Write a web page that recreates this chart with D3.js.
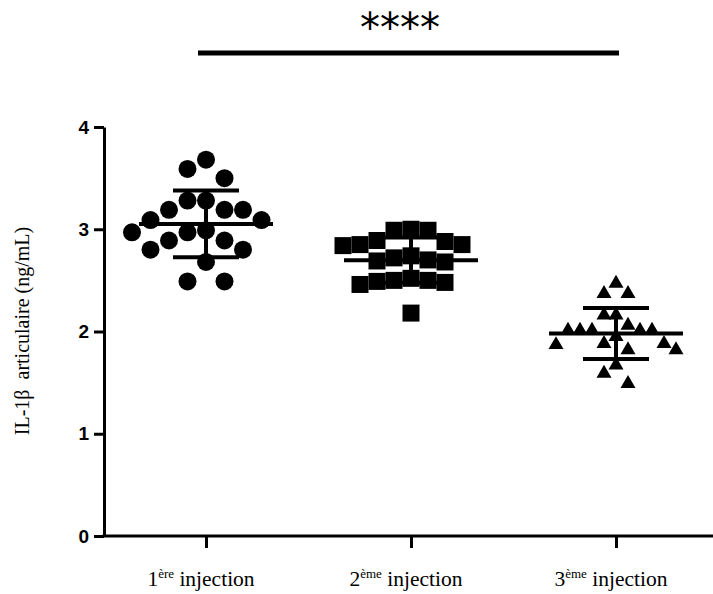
<!DOCTYPE html>
<html>
<head>
<meta charset="utf-8">
<script src="https://cdn.jsdelivr.net/npm/d3@7"></script>
<style>
  html, body { margin: 0; padding: 0; background: #fff; }
  svg { display: block; }
</style>
</head>
<body>
<div id="graph"></div>
<script>
'use strict';

// groups on the x axis (number + superscript suffix)
const groupNums = ['1', '2', '3'];
const groupSups = ['ère', 'ème', 'ème'];
const groupWord = ' injection';

// IL-1β values (ng/mL), one array per injection
const inj1 = [3.68, 3.59, 3.50, 3.28, 3.28, 3.19, 3.19, 3.19, 3.09, 3.09,
              2.97, 2.99, 2.97, 2.89, 2.89, 2.80, 2.80, 2.68, 2.49, 2.49];
const inj2 = [3.00, 2.99, 2.99, 2.89, 2.88, 2.85, 2.85, 2.84, 2.74, 2.72,
              2.70, 2.69, 2.68, 2.52, 2.50, 2.50, 2.49, 2.48, 2.46, 2.18];
const inj3 = [2.47, 2.37, 2.37, 2.16, 2.16, 2.06, 2.01, 2.01, 2.01, 2.01,
              2.01, 1.95, 1.88, 1.88, 1.87, 1.82, 1.82, 1.67, 1.59, 1.49];

const yTicks = [0, 1, 2, 3, 4];
const yTitle = 'IL-1β  articulaire (ng/mL)';
const sigLabel = '****';

const W = 713, H = 594;
const svg = d3.select('#graph').append('svg')
    .attr('width', W)
    .attr('height', H);

const series = [inj1, inj2, inj3];
const shapes = [d3.symbolCircle, d3.symbolSquare, d3.symbolTriangle];
const symArea = [Math.PI * 81, 17 * 17, Math.sqrt(3) / 4 * 15 * 15];
const laneStep = [18.5, 17, 12];   // sideways distance between columns
const laneGap = [24, 19, 21];      // min vertical distance inside a column

const y = d3.scaleLinear().domain([0, 4]).range([536, 127]);
const x = d3.scalePoint().domain(groupNums).range([206, 616]);

// axes
const yAxis = d3.axisLeft(y).tickValues(yTicks).tickSize(10).tickSizeOuter(0)
    .tickPadding(5).tickFormat(d3.format('d'));
const gy = svg.append('g').attr('transform', 'translate(104,0)').call(yAxis);
gy.selectAll('path, line').attr('stroke', '#000').attr('stroke-width', 3);
gy.selectAll('text')
    .attr('font-family', 'Liberation Sans, Arial, sans-serif')
    .attr('font-size', 19)
    .attr('font-weight', 'bold')
    .attr('fill', '#000');

const xAxis = d3.axisBottom(x).tickSize(12).tickSizeOuter(0).tickFormat('');
const gx = svg.append('g').attr('transform', 'translate(0,536)').call(xAxis);
gx.select('.domain').attr('d', `M${104 - 1.5},0H${W}`);
gx.selectAll('path, line').attr('stroke', '#000').attr('stroke-width', 3);

const xl = svg.append('g').selectAll('text')
    .data(groupNums)
    .enter()
    .append('text')
    .attr('x', d => x(d) - 5)
    .attr('y', 586)
    .attr('text-anchor', 'middle')
    .attr('font-family', 'Liberation Serif, Times New Roman, serif')
    .attr('font-size', 21.5)
    .attr('fill', '#000');
xl.append('tspan').text(d => d);
xl.append('tspan').attr('dy', -8).attr('font-size', 13).text((d, i) => groupSups[i]);
xl.append('tspan').attr('dy', 8).text(groupWord);

svg.append('text')
    .attr('transform', 'translate(29,331)rotate(-90)')
    .attr('text-anchor', 'middle')
    .attr('font-family', 'Liberation Serif, Times New Roman, serif')
    .attr('font-size', 20)
    .attr('fill', '#000')
    .attr('xml:space', 'preserve')
    .text(yTitle);

// column layout so close values spread sideways, like a scatter dot plot
function swarm(values, step, gap) {
  const order = values.map(v => v).sort((a, b) => b - a);
  const placed = [];
  order.forEach(v => {
    const py = y(v);
    for (let k = 0; k < 30; k++) {
      const lane = k === 0 ? 0 : (k % 2 ? -Math.ceil(k / 2) : Math.ceil(k / 2));
      const free = placed.every(q => q.lane !== lane || Math.abs(q.y - py) >= gap);
      if (free) {
        placed.push({ v: v, y: py, lane: lane, dx: lane * step });
        break;
      }
    }
  });
  return placed;
}

series.forEach((vals, gi) => {
  const cx = x(groupNums[gi]);
  const pts = swarm(vals, laneStep[gi], laneGap[gi]);
  svg.append('g').selectAll('path')
      .data(pts)
      .enter()
      .append('path')
      .attr('d', d3.symbol().type(shapes[gi]).size(symArea[gi]))
      .attr('transform', d => `translate(${cx + d.dx},${d.y})`)
      .attr('fill', '#000');

  const m = d3.mean(vals), sd = d3.deviation(vals);
  const g = svg.append('g').attr('stroke', '#000').attr('stroke-width', 4);
  g.append('line').attr('x1', cx - 67).attr('x2', cx + 67).attr('y1', y(m)).attr('y2', y(m));
  g.append('line').attr('x1', cx).attr('x2', cx).attr('y1', y(m - sd)).attr('y2', y(m + sd));
  g.append('line').attr('x1', cx - 33).attr('x2', cx + 33).attr('y1', y(m + sd)).attr('y2', y(m + sd));
  g.append('line').attr('x1', cx - 33).attr('x2', cx + 33).attr('y1', y(m - sd)).attr('y2', y(m - sd));
});

// significance bar between 1st and 3rd injection
svg.append('line')
    .attr('x1', x(groupNums[0]) - 8).attr('x2', x(groupNums[2]) + 3)
    .attr('y1', 53).attr('y2', 53)
    .attr('stroke', '#000').attr('stroke-width', 5);
svg.append('text')
    .attr('x', (x(groupNums[0]) + x(groupNums[2])) / 2 - 11)
    .attr('y', 42)
    .attr('text-anchor', 'middle')
    .attr('font-family', 'DejaVu Sans, sans-serif')
    .attr('font-size', 40)
    .attr('fill', '#000')
    .text(sigLabel);
</script>
</body>
</html>
